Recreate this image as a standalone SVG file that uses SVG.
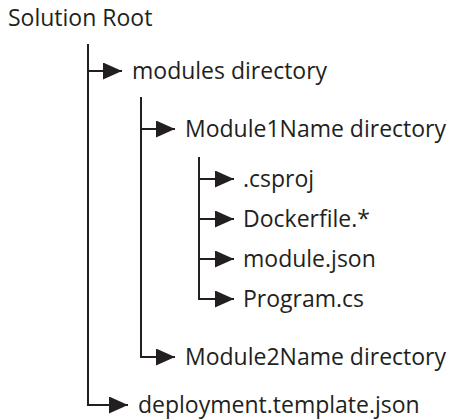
<svg xmlns="http://www.w3.org/2000/svg" width="453" height="419" viewBox="0 0 453 419">
<defs>
<style>
text{font-family:"Open Sans","Noto Sans",sans-serif;font-size:23px;fill:#231f20}
.ln{stroke:#231f20;stroke-width:2;fill:none}
.ah{fill:#231f20}
</style>
<marker id="arr" viewBox="0 0 19 17" refX="19" refY="8.5" markerWidth="19" markerHeight="17" markerUnits="userSpaceOnUse" orient="auto">
<path d="M0,0 L19,8.5 L0,17 Z" class="ah"/>
</marker>
</defs>
<rect width="453" height="419" fill="#ffffff"/>
<g id="connectors">
<path class="ln" d="M88,44 V405 H128" marker-end="url(#arr)"/>
<path class="ln" d="M88,71 H122" marker-end="url(#arr)"/>
<path class="ln" d="M141,97 V357 H175" marker-end="url(#arr)"/>
<path class="ln" d="M141,129 H175" marker-end="url(#arr)"/>
<path class="ln" d="M199,157 V299 H234" marker-end="url(#arr)"/>
<path class="ln" d="M199,179 H234" marker-end="url(#arr)"/>
<path class="ln" d="M199,219 H234" marker-end="url(#arr)"/>
<path class="ln" d="M199,259 H234" marker-end="url(#arr)"/>
</g>
<g id="solution-root"><text x="8" y="26">Solution Root</text></g>
<g id="modules-directory"><text x="132" y="79">modules directory</text></g>
<g id="module1name-directory"><text x="185" y="137">Module1Name directory</text></g>
<g id="csproj"><text x="243" y="187">.csproj</text></g>
<g id="dockerfile"><text x="243" y="227">Dockerfile.*</text></g>
<g id="module-json"><text x="243" y="267">module.json</text></g>
<g id="program-cs"><text x="243" y="307">Program.cs</text></g>
<g id="module2name-directory"><text x="185" y="365">Module2Name directory</text></g>
<g id="deployment-template-json"><text x="138" y="413">deployment.template.json</text></g>
</svg>
